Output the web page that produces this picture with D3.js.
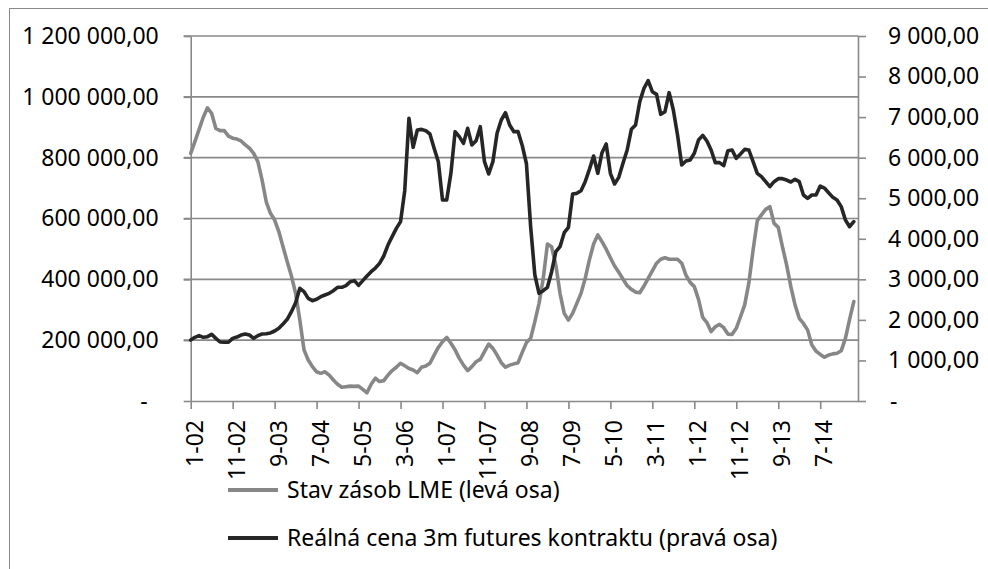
<!DOCTYPE html>
<html>
<head>
<meta charset="utf-8">
<script src="https://cdn.jsdelivr.net/npm/d3@7"></script>
<style>
  body { margin: 0; background: #fff; }
  svg text { font-family: "Noto Sans", sans-serif; fill: #000; }
</style>
</head>
<body>
<div id="chart"></div>
<script>
// monthly categories, Jan 2002 onwards (label format M-YY)
var startYear = 2002;
var nMonths = 160;
var tickEvery = 10;

// LME stocks (left axis)
var stocks = [
  814000, 853000, 893000, 933000, 964000, 945000, 896000, 889000, 889000, 871000,
  864000, 861000, 855000, 842000, 831000, 814000, 787000, 727000, 655000, 617000,
  595000, 557000, 507000, 458000, 411000, 354000, 266000, 168000, 135000, 113000,
  96000, 91000, 96000, 85000, 69000, 55000, 45000, 47000, 49000, 48000,
  49000, 38000, 27000, 55000, 75000, 64000, 67000, 85000, 100000, 111000,
  124000, 116000, 107000, 102000, 93000, 111000, 115000, 124000, 151000, 176000,
  195000, 209000, 190000, 168000, 140000, 118000, 100000, 113000, 129000, 137000,
  162000, 187000, 173000, 151000, 126000, 111000, 118000, 122000, 126000, 160000,
  192000, 206000, 261000, 321000, 403000, 516000, 507000, 447000, 354000, 288000,
  266000, 288000, 321000, 354000, 403000, 464000, 516000, 546000, 524000, 499000,
  471000, 444000, 423000, 401000, 379000, 367000, 358000, 356000, 378000, 403000,
  428000, 453000, 466000, 471000, 466000, 466000, 466000, 453000, 414000, 390000,
  376000, 334000, 275000, 258000, 228000, 244000, 252000, 241000, 220000, 219000,
  239000, 277000, 316000, 389000, 496000, 593000, 612000, 630000, 639000, 584000,
  571000, 507000, 447000, 376000, 316000, 272000, 255000, 233000, 184000, 164000,
  153000, 144000, 151000, 155000, 157000, 165000, 206000, 268000, 327000
];

// real price of 3m futures (right axis)
var price = [
  1504, 1570, 1611, 1570, 1586, 1644, 1545, 1455, 1447, 1447,
  1545, 1578, 1627, 1652, 1627, 1545, 1611, 1652, 1660, 1677,
  1726, 1792, 1899, 2014, 2203, 2425, 2779, 2696, 2531, 2474,
  2507, 2572, 2614, 2655, 2720, 2803, 2803, 2844, 2942, 2967,
  2850, 2967, 3082, 3189, 3279, 3394, 3575, 3846, 4052, 4257,
  4422, 5186, 6970, 6255, 6682, 6698, 6666, 6583, 6230, 5901,
  4956, 4956, 5614, 6641, 6518, 6353, 6723, 6312, 6419, 6764,
  5901, 5597, 5901, 6600, 6929, 7109, 6805, 6641, 6641, 6300,
  5850, 4300, 3107, 2655, 2720, 2803, 3189, 3682, 3805, 4151,
  4282, 5104, 5120, 5186, 5408, 5712, 6041, 5614, 6123, 6337,
  5614, 5351, 5515, 5860, 6189, 6698, 6805, 7381, 7709, 7898,
  7627, 7561, 7068, 7134, 7603, 7175, 6559, 5819, 5917, 5942,
  6107, 6436, 6550, 6411, 6189, 5877, 5877, 5803, 6172, 6189,
  5983, 6090, 6205, 6189, 5901, 5614, 5531, 5408, 5285, 5408,
  5482, 5482, 5449, 5400, 5466, 5408, 5079, 4997, 5079, 5079,
  5300, 5250, 5137, 5022, 4956, 4792, 4463, 4298, 4422
];

var leftTicks = [0, 200000, 400000, 600000, 800000, 1000000, 1200000];
var rightTicks = [0, 1000, 2000, 3000, 4000, 5000, 6000, 7000, 8000, 9000];
var seriesNames = ["Stav zásob LME (levá osa)", "Reálná cena 3m futures kontraktu (pravá osa)"];
var seriesColors = ["#878787", "#262626"];

function drawChart() {
    var categories = d3.range(nMonths).map(function(i) {
        var m = i % 12 + 1, y = (startYear + Math.floor(i / 12)) % 100;
        return m + "-" + (y < 10 ? "0" + y : "" + y);
    });

    var W = 988, H = 569;
    var plotLeft = 190.7, plotRight = 858, plotTop = 36, plotBottom = 401;
    var gridColor = "#898989";

    var svg = d3.select("#chart").append("svg")
        .attr("width", W).attr("height", H);

    // outer chart frame
    svg.append("rect")
        .attr("x", 9.5).attr("y", 8.5)
        .attr("width", W + 10).attr("height", H + 10)
        .attr("fill", "none").attr("stroke", gridColor).attr("stroke-width", 1);

    var x = d3.scaleLinear().domain([0, nMonths - 1]).range([plotLeft, plotRight]);
    var yL = d3.scaleLinear().domain([0, 1200000]).range([plotBottom, plotTop]);
    var yR = d3.scaleLinear().domain([0, 9000]).range([plotBottom, plotTop]);

    var loc = d3.formatLocale({decimal: ",", thousands: " ", grouping: [3], currency: ["", ""]});
    var fmt = loc.format(",.2f");
    function tickFmt(d) { return d === 0 ? "-" : fmt(d); }

    // gridlines
    svg.append("g").selectAll("line")
        .data(leftTicks.slice(1))
        .enter().append("line")
        .attr("x1", plotLeft - 7).attr("x2", plotRight)
        .attr("y1", function(d) { return yL(d); })
        .attr("y2", function(d) { return yL(d); })
        .attr("stroke", gridColor).attr("stroke-width", 1.6);

    function styleAxis(g) {
        g.select(".domain").attr("stroke", gridColor).attr("stroke-width", 1.6);
        g.selectAll(".tick line").attr("stroke", gridColor).attr("stroke-width", 1.6);
        g.selectAll("text").attr("font-size", 23)
            .style("font-family", '"Noto Sans", sans-serif').attr("fill", "#000");
    }

    var gL = svg.append("g").attr("transform", "translate(" + plotLeft + ",0)")
        .call(d3.axisLeft(yL).tickValues(leftTicks).tickSize(7).tickSizeOuter(0)
            .tickPadding(25).tickFormat(tickFmt))
        .call(styleAxis);
    gL.selectAll(".tick text").filter(function(d) { return d === 0; }).attr("dx", -11);

    var gR = svg.append("g").attr("transform", "translate(" + plotRight + ",0)")
        .call(d3.axisRight(yR).tickValues(rightTicks).tickSize(8).tickSizeOuter(0)
            .tickPadding(22).tickFormat(tickFmt))
        .call(styleAxis);
    gR.selectAll(".tick text").filter(function(d) { return d === 0; }).attr("dx", 2);

    var gX = svg.append("g").attr("transform", "translate(0," + plotBottom + ")")
        .call(d3.axisBottom(x).tickValues(d3.range(0, nMonths, tickEvery)).tickSize(8)
            .tickSizeOuter(0).tickFormat(function(i) { return categories[i]; }))
        .call(styleAxis);
    gX.selectAll(".tick text")
        .attr("transform", "rotate(-90)")
        .attr("text-anchor", "end")
        .attr("x", -19).attr("y", 0).attr("dy", "0.5em");

    // series: stocks first, price (secondary axis) on top
    var lineL = d3.line().x(function(d, i) { return x(i); }).y(function(d) { return yL(d); });
    var lineR = d3.line().x(function(d, i) { return x(i); }).y(function(d) { return yR(d); });

    svg.append("path").datum(stocks)
        .attr("d", lineL).attr("fill", "none")
        .attr("stroke", seriesColors[0]).attr("stroke-width", 3.6)
        .attr("stroke-linejoin", "round").attr("stroke-linecap", "round");

    svg.append("path").datum(price)
        .attr("d", lineR).attr("fill", "none")
        .attr("stroke", seriesColors[1]).attr("stroke-width", 3.6)
        .attr("stroke-linejoin", "round").attr("stroke-linecap", "round");

    // legend
    var legend = svg.append("g").selectAll("g")
        .data(seriesNames)
        .enter().append("g")
        .attr("transform", function(d, i) { return "translate(228," + (490 + i * 48) + ")"; });
    legend.append("line")
        .attr("x1", 0).attr("x2", 50).attr("y1", 0).attr("y2", 0)
        .attr("stroke", function(d, i) { return seriesColors[i]; })
        .attr("stroke-width", 4);
    legend.append("text")
        .attr("x", 59).attr("dy", "0.35em")
        .attr("font-size", 23)
        .text(function(d) { return d; });
}

drawChart();
</script>
</body>
</html>
